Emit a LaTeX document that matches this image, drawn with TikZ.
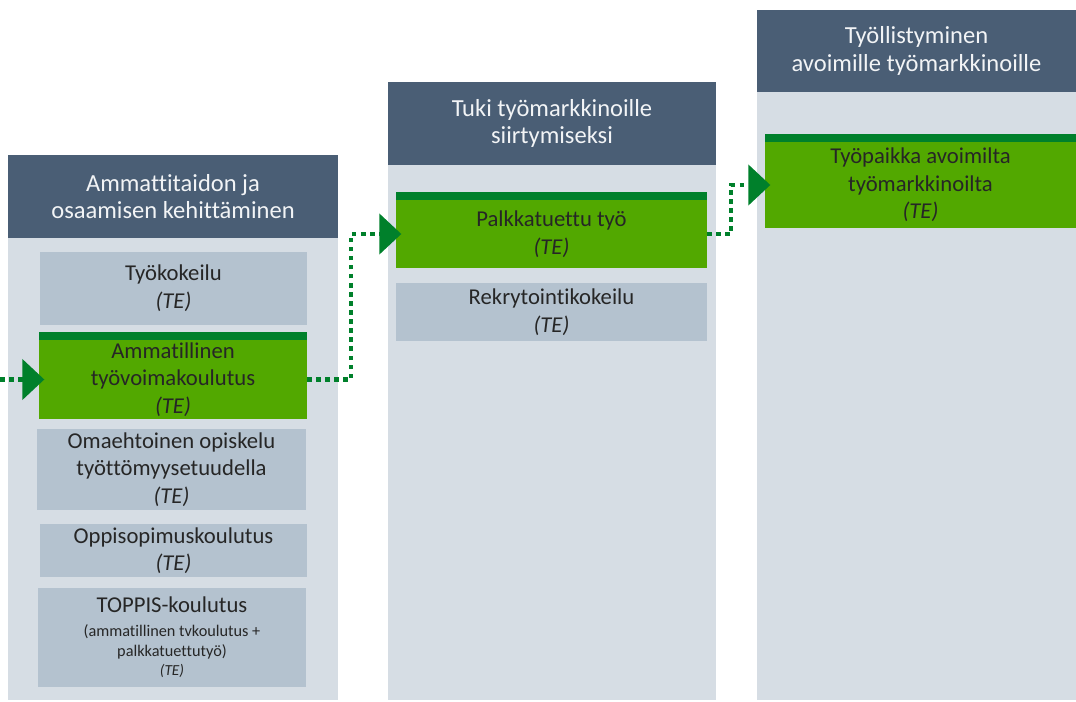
\documentclass[tikz,border=0pt]{standalone}
\usepackage{fontspec}
\setmainfont{Carlito}[Ligatures=NoCommon]
\usetikzlibrary{arrows.meta}

\definecolor{headblue}{HTML}{4A5E75}
\definecolor{headtext}{HTML}{F2F4F6}
\definecolor{colgrey}{HTML}{D6DDE4}
\definecolor{itemgrey}{HTML}{B4C2CF}
\definecolor{itemgreen}{HTML}{52A800}
\definecolor{flowgreen}{HTML}{00802B}
\definecolor{itemtext}{HTML}{262626}

\newcommand{\headfont}{\fontsize{18.4}{20.5}\selectfont}
\newcommand{\itemfont}{\fontsize{17}{20.6}\selectfont}
\newcommand{\notefont}{\fontsize{12.2}{15}\selectfont}
\newcommand{\tinynote}{\fontsize{11.5}{13}\selectfont}

\tikzset{
  px size/.style 2 args={minimum width=#1*0.75pt, minimum height=#2*0.75pt},
  head/.style={fill=headblue, text=headtext, align=center, font=\headfont,
    inner sep=0pt, outer sep=0pt},
  col/.style={fill=colgrey, inner sep=0pt, outer sep=0pt},
  item/.style={fill=itemgrey, text=itemtext, align=center, font=\itemfont,
    inner sep=0pt, outer sep=0pt},
  green item/.style={item, fill=itemgreen},
  flow/.style={draw=flowgreen, line width=3.4pt, dash pattern=on 3.4pt off 3.4pt,
    -{Triangle[width=30pt,length=16.5pt]}, shorten >=-4pt},
}

\begin{document}
\begin{tikzpicture}[x=0.75pt, y=-0.75pt]
    \useasboundingbox (0,0) rectangle (1076,701);
    % columns
    \node[col, px size={330}{462}] (C0) at (173, 469) {};
    \node[col, px size={328}{535}] (C1) at (552, 432.5) {};
    \node[col, px size={319}{608}] (C2) at (916.5, 396) {};
    \node[head, px size={330}{83}] (H0) at (173, 196.5)
      {Ammattitaidon ja\\osaamisen kehittäminen};
    \node[head, px size={328}{83}] (H1) at (552, 123.5)
      {Tuki työmarkkinoille\\siirtymiseksi};
    \node[head, px size={319}{82}] (H2) at (916.5, 51)
      {Työllistyminen\\avoimille työmarkkinoille};
    % items
    \node[item, px size={267}{73}] (B0_0) at (173.5, 288)
      {Työkokeilu\\\textit{(TE)}};
    \node[green item, px size={268}{79}] (B0_1) at (173, 379.5)
      {Ammatillinen\\työvoimakoulutus\\\textit{(TE)}};
    \node[item, px size={269}{81}] (B0_2) at (171.5, 469.5)
      {Omaehtoinen opiskelu\\työttömyysetuudella\\\textit{(TE)}};
    \node[item, px size={267}{53}] (B0_3) at (173.5, 550.5)
      {Oppisopimuskoulutus\\\textit{(TE)}};
    \node[item, px size={268}{99}] (B0_4) at (172, 637.5)
      {TOPPIS-koulutus\\[-2.6pt]\notefont (ammatillinen tvkoulutus +\\[-5.6pt]
       \notefont palkkatuettutyö)\\[-6.6pt]\tinynote\textit{(TE)}};
    \node[green item, px size={311}{68}] (B1_0) at (551.5, 234)
      {Palkkatuettu työ\\\textit{(TE)}};
    \node[item, px size={311}{58}] (B1_1) at (551.5, 312)
      {Rekrytointikokeilu\\\textit{(TE)}};
    \node[green item, px size={311}{86}] (B2_0) at (920.5, 185)
      {Työpaikka avoimilta\\työmarkkinoilta\\\textit{(TE)}};
    \foreach \n in {B0_1, B1_0, B2_0}
      \fill[flowgreen] ([yshift=6pt]\n.north west) rectangle (\n.north east);
    % flow
    \coordinate (start) at (0, 379.5);
    \draw[flow] (start) -- (B0_1.west);
    \draw[flow] (B0_1.east) -- ++(44,0) |- (B1_0.west);
    \draw[flow] (B1_0.east) -- ++(24,0) |- (B2_0.west);
\end{tikzpicture}
\end{document}
